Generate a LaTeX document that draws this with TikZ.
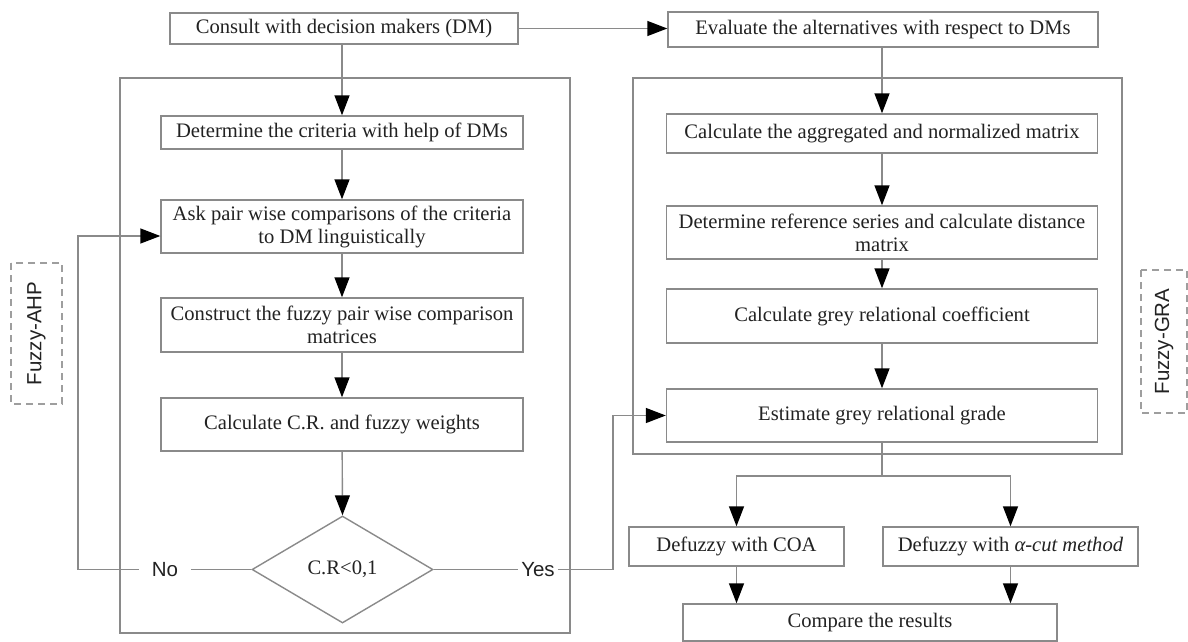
\documentclass[tikz,border=0pt]{standalone}
\usepackage{fontspec}
\setmainfont{Liberation Serif}
\newfontfamily\labelfont{Liberation Sans}
\usetikzlibrary{shapes.geometric,arrows.meta}
\definecolor{linegray}{HTML}{8A8A8A}
\definecolor{dashgray}{HTML}{9E9E9E}
\definecolor{txt}{HTML}{222222}
\begin{document}
\begin{tikzpicture}[x=1pt,y=-1pt,
  box/.style={draw=linegray, line width=1.4pt, fill=white, text=txt, font=\fontsize{20.6}{23}\selectfont, align=center, inner sep=0pt},
  conn/.style={draw=linegray, line width=1.4pt},
  arr/.style={conn, -{Triangle[length=20pt,width=15pt,color=black,fill=black]}},
  frame/.style={draw=linegray, line width=1.4pt, inner sep=0pt},
  tag/.style={draw=dashgray, dash pattern=on 7pt off 5pt, line width=1.3pt, font=\labelfont\fontsize{20.5}{23}\selectfont, text=txt, rotate=90, inner sep=0pt},
  lab/.style={font=\labelfont\fontsize{20.5}{23}\selectfont, text=txt, inner ysep=0pt}]
\useasboundingbox (0,0) rectangle (1188,642);

% container frames
\node[frame, minimum width=450, minimum height=555] (ahpframe) at (345,355.5) {};
\node[frame, minimum width=489, minimum height=376] (graframe) at (877.5,266) {};

% top boxes
\node[box, minimum width=348, minimum height=31] (consult) at (344,28.5) {Consult with decision makers (DM)};
\node[box, minimum width=430, minimum height=35] (evaluate) at (883,29.5) {Evaluate the alternatives with respect to DMs};

% AHP column
\node[box, minimum width=362, minimum height=33] (crit) at (342,132.5) {Determine the criteria with help of DMs};
\node[box, minimum width=362, minimum height=53] (ask) at (342,226.5) {Ask pair wise comparisons of the criteria\\to DM linguistically};
\node[box, minimum width=362, minimum height=54] (construct) at (342,325) {Construct the fuzzy pair wise comparison\\matrices};
\node[box, minimum width=362, minimum height=53] (calccr) at (342,424.5) {Calculate C.R. and fuzzy weights};
\node[box, shape=diamond, minimum width=181, minimum height=107] (dec) at (342.5,569.5) {C.R<0,1};

% GRA column
\node[box, minimum width=431, minimum height=39] (agg) at (882,133.5) {Calculate the aggregated and normalized matrix};
\node[box, minimum width=431, minimum height=53] (ref) at (882,232.5) {Determine reference series and calculate distance\\matrix};
\node[box, minimum width=431, minimum height=54] (coef) at (882,316) {Calculate grey relational coefficient};
\node[box, minimum width=431, minimum height=53] (est) at (882,415.5) {Estimate grey relational grade};

% bottom
\node[box, minimum width=215, minimum height=39] (coa) at (736.5,546.5) {Defuzzy with COA};
\node[box, minimum width=255, minimum height=39] (alpha) at (1010.5,546.5) {Defuzzy with \textit{α-cut method}};
\node[box, minimum width=374, minimum height=37] (compare) at (870,622.5) {Compare the results};

% tags
\node[tag, minimum width=141, minimum height=51] (ahp) at (36.5,333.5) {Fuzzy-AHP};
\node[tag, minimum width=143, minimum height=46] (gra) at (1164,341.5) {Fuzzy-GRA};

% decision labels
\node[lab, inner xsep=13pt] (no) at (165,569.5) {No};
\node[lab, inner xsep=3pt] (yes) at (538,569.5) {Yes};
\coordinate (nocorner) at (78,569.5);
\coordinate (yescorner) at (613,569.5);
\coordinate (split) at (882,476);

% connectors
\draw[arr] (consult.east) -- (consult.east -| evaluate.west);
\draw[arr] (crit.north |- consult.south) -- (crit.north);
\draw[arr] (crit) -- (ask);
\draw[arr] (ask) -- (construct);
\draw[arr] (construct) -- (calccr);
\draw[arr] (calccr) -- (dec.north);
\draw[arr] (agg.north |- evaluate.south) -- (agg.north);
\draw[arr] (agg) -- (ref);
\draw[arr] (ref) -- (coef);
\draw[arr] (coef) -- (est);
\draw[conn] (est.south) -- (split);
\draw[arr] (split) -| (coa.north);
\draw[arr] (split) -| (alpha.north);
\draw[arr] (coa.south) -- (coa.south |- compare.north);
\draw[arr] (alpha.south) -- (alpha.south |- compare.north);
\draw[conn] (dec.west) -- (no.east);
\draw[arr] (no.west) -- (nocorner) |- ([yshift=-9.5pt]ask.west);
\draw[conn] (dec.east) -- (yes.west);
\draw[arr] (yes.east) -- (yescorner) |- (est.west);
\end{tikzpicture}
\end{document}
